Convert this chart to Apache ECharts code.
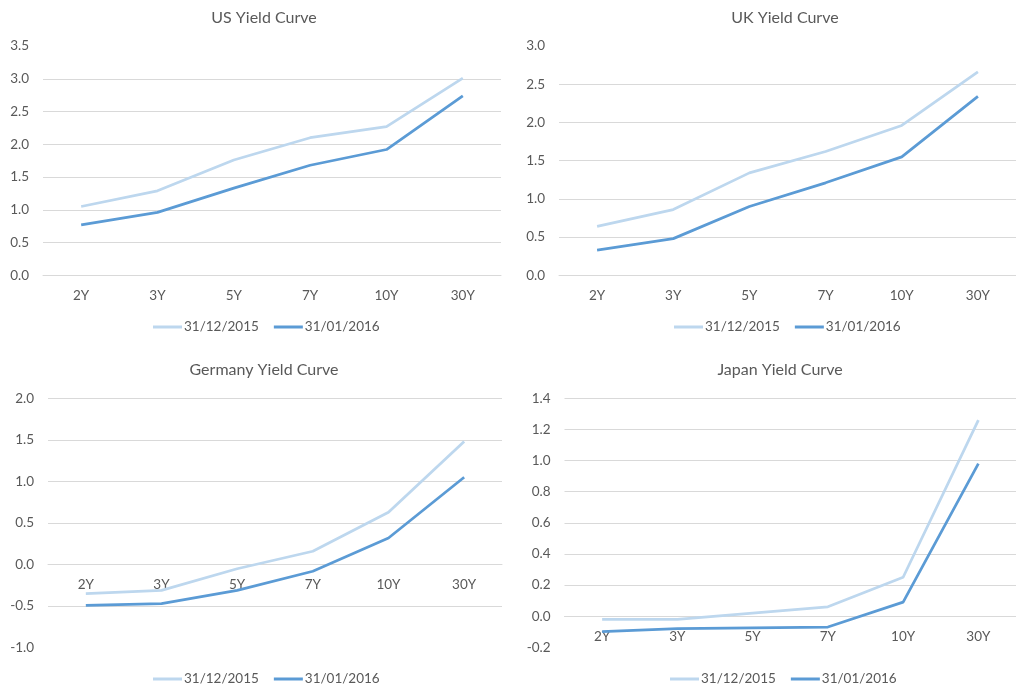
<!DOCTYPE html>
<html>
<head>
<meta charset="utf-8">
<script src="https://cdn.jsdelivr.net/npm/echarts@6/dist/echarts.min.js"></script>
<style>
  html, body { margin: 0; padding: 0; background: #ffffff; }
  #chart { width: 1016px; height: 686px; }
</style>
</head>
<body>
<div id="chart"></div>
<script>
// Government bond yield curves (%), month-end snapshots
const tenors = ['2Y', '3Y', '5Y', '7Y', '10Y', '30Y'];
const dates = ['31/12/2015', '31/01/2016'];

const usDec2015 = [1.05, 1.29, 1.76, 2.10, 2.27, 3.01];
const usJan2016 = [0.77, 0.96, 1.33, 1.68, 1.92, 2.74];

const ukDec2015 = [0.64, 0.86, 1.34, 1.62, 1.96, 2.66];
const ukJan2016 = [0.33, 0.48, 0.90, 1.21, 1.55, 2.34];

const deDec2015 = [-0.35, -0.31, -0.05, 0.16, 0.63, 1.48];
const deJan2016 = [-0.49, -0.47, -0.31, -0.08, 0.32, 1.05];

const jpDec2015 = [-0.02, -0.02, 0.02, 0.06, 0.25, 1.26];
const jpJan2016 = [-0.10, -0.08, -0.075, -0.07, 0.09, 0.98];

const FONT = 'Lato';
const TEXT = '#595959';
const GRID_LINE = '#D9D9D9';
const LIGHT = '#BDD7EE';
const DARK = '#5B9BD5';

// Panel layout: plot box, title and legend anchor for each country
const panels = [
  { title: 'US Yield Curve', a: usDec2015, b: usJan2016, min: 0, max: 3.5, step: 0.5,
    grid: { left: 43, top: 46, width: 458, height: 229.3 }, titleX: 259, titleY: 17, legendX: 261, legendY: 326,
    hideMin: false, hideMax: true },
  { title: 'UK Yield Curve', a: ukDec2015, b: ukJan2016, min: 0, max: 3.0, step: 0.5,
    grid: { left: 559, top: 46, width: 468, height: 229.3 }, titleX: 780, titleY: 17, legendX: 782, legendY: 326,
    hideMin: false, hideMax: true },
  { title: 'Germany Yield Curve', a: deDec2015, b: deJan2016, min: -1.0, max: 2.0, step: 0.5,
    grid: { left: 48, top: 398.3, width: 454, height: 249.4 }, titleX: 259, titleY: 369, legendX: 261, legendY: 678,
    hideMin: true, hideMax: false },
  { title: 'Japan Yield Curve', a: jpDec2015, b: jpJan2016, min: -0.2, max: 1.4, step: 0.2,
    grid: { left: 564.5, top: 398.3, width: 454, height: 249 }, titleX: 775, titleY: 369, legendX: 778, legendY: 678,
    hideMin: true, hideMax: false }
];

const chart = echarts.init(document.getElementById('chart'), null, { renderer: 'canvas' });

const option = {
  backgroundColor: '#ffffff',
  animation: false,
  textStyle: { fontFamily: FONT },
  title: [],
  legend: [],
  grid: [],
  xAxis: [],
  yAxis: [],
  series: []
};

panels.forEach((p, i) => {
  option.title.push({
    text: p.title,
    left: p.titleX, top: p.titleY - 12,
    textAlign: 'center',
    textStyle: { fontFamily: FONT, fontSize: 16, fontWeight: 'normal', color: TEXT }
  });
  option.grid.push(Object.assign({ containLabel: false }, p.grid));
  // category axis sits on the zero line: shift it up from the bottom edge
  const zeroLift = p.grid.height * (0 - p.min) / (p.max - p.min);
  option.xAxis.push({
    type: 'category', gridIndex: i, data: tenors, boundaryGap: true,
    position: 'bottom', offset: -zeroLift,
    axisLine: { show: true, onZero: false, lineStyle: { color: GRID_LINE, width: 1 } },
    axisTick: { show: false },
    axisLabel: { color: TEXT, fontFamily: FONT, fontSize: 13.5, margin: 13 },
    splitLine: { show: false }
  });
  option.yAxis.push({
    type: 'value', gridIndex: i, min: p.min, max: p.max, interval: p.step,
    axisLine: { show: false }, axisTick: { show: false },
    axisLabel: { color: TEXT, fontFamily: FONT, fontSize: 13.5, margin: 14,
      formatter: v => v.toFixed(1) },
    splitLine: { show: true, showMinLine: !p.hideMin, showMaxLine: !p.hideMax,
      lineStyle: { color: GRID_LINE, width: 1 } }
  });
  [p.a, p.b].forEach((vals, k) => {
    option.series.push({
      name: dates[k], type: 'line', xAxisIndex: i, yAxisIndex: i,
      data: vals, showSymbol: false, symbol: 'none', smooth: false,
      lineStyle: { color: k === 0 ? LIGHT : DARK, width: 2.75 },
      itemStyle: { color: k === 0 ? LIGHT : DARK },
      z: 3 + k
    });
  });
});

panels.forEach((p) => {
  option.legend.push({
    data: dates.map(d => ({ name: d, icon: 'rect' })),
    left: p.legendX - 113, top: p.legendY - 11,
    itemWidth: 29, itemHeight: 3, itemGap: 15,
    textStyle: { color: TEXT, fontFamily: FONT, fontSize: 13.5, padding: [0, 0, 0, -3] },
    selectedMode: false
  });
});

chart.setOption(option);
</script>
</body>
</html>
